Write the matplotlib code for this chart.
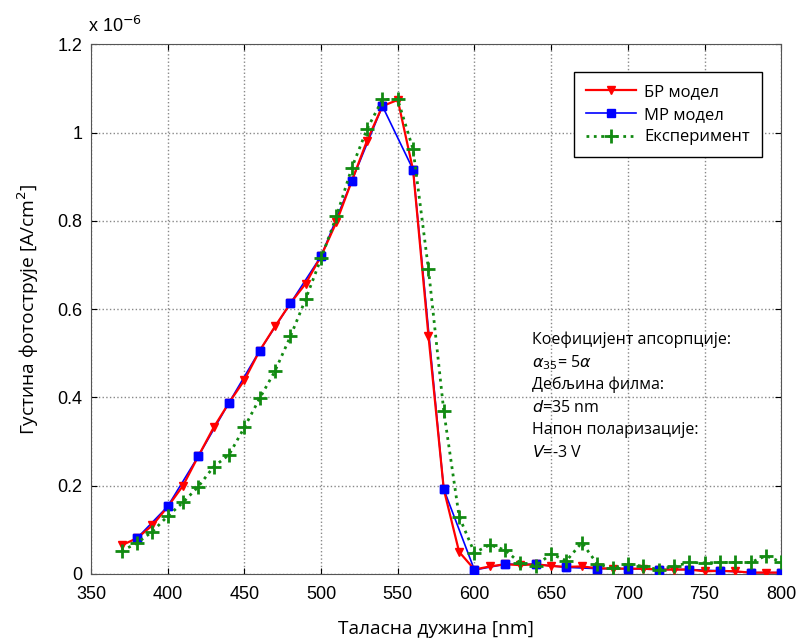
import matplotlib
matplotlib.use("Agg")
import matplotlib.pyplot as plt

# wavelength grid [nm]
wl = list(range(370, 801, 10))
wl_mr = list(range(380, 801, 20))

# photocurrent density, units of 1e-6 A/cm^2
br_model = [0.065, 0.081, 0.11, 0.152, 0.2, 0.267, 0.332, 0.388, 0.439, 0.506,
            0.561, 0.613, 0.658, 0.72, 0.797, 0.89, 0.982, 1.06, 1.074, 0.915,
            0.54, 0.192, 0.05, 0.01, 0.017, 0.022, 0.02, 0.022, 0.018, 0.016,
            0.017, 0.013, 0.012, 0.012, 0.012, 0.01, 0.01, 0.01, 0.006, 0.007,
            0.006, 0.003, 0.003, 0.003]
mr_model = [0.081, 0.153, 0.267, 0.388, 0.506, 0.613, 0.72, 0.89, 1.06, 0.916,
            0.192, 0.009, 0.022, 0.022, 0.015, 0.012, 0.012, 0.01, 0.01, 0.007,
            0.003, 0.003]
experiment = [0.052, 0.07, 0.096, 0.131, 0.162, 0.198, 0.243, 0.27, 0.332, 0.398,
              0.46, 0.538, 0.623, 0.715, 0.81, 0.92, 1.008, 1.075, 1.075, 0.962,
              0.691, 0.369, 0.13, 0.048, 0.066, 0.054, 0.024, 0.019, 0.045, 0.03,
              0.071, 0.023, 0.013, 0.023, 0.017, 0.01, 0.017, 0.026, 0.025, 0.026,
              0.026, 0.026, 0.041, 0.027]

plt.rcParams['font.family'] = ['Liberation Sans', 'DejaVu Sans']
label_font = ['Open Sans', 'DejaVu Sans']

fig = plt.figure(figsize=(7.98, 6.42), dpi=100)
ax = fig.add_axes([0.114, 0.106, 0.865, 0.825])

ax.plot(wl_mr, mr_model, color='blue', lw=1.2, marker='s', ms=6,
        label='МР модел', zorder=2)
ax.plot(wl, br_model, color='red', lw=1.6, marker='v', ms=6,
        label='БР модел', zorder=3)
ax.plot(wl_mr, mr_model, color='blue', lw=0, marker='s', ms=6, zorder=4)
ax.plot(wl, experiment, color='#128a12', lw=2, ls=':', marker='+', ms=10,
        mew=2, label='Експеримент', zorder=5)

ax.set_xlim(350, 800)
ax.set_ylim(0, 1.2)
ax.set_xticks(range(350, 801, 50))
ax.set_yticks([0, 0.2, 0.4, 0.6, 0.8, 1.0, 1.2])
ax.set_yticklabels(['0', '0.2', '0.4', '0.6', '0.8', '1', '1.2'])
ax.tick_params(direction='in', top=True, right=True, labelsize=13, length=4)
ax.tick_params(axis='x', pad=9)
ax.tick_params(axis='y', pad=6)
ax.grid(True, ls=':', color='#888888', lw=1)
for s in ax.spines.values():
    s.set_color('#555555')

ax.text(-0.004, 1.015, 'x 10$^{-6}$', transform=ax.transAxes, fontsize=13,
        ha='left', va='bottom')

ax.set_xlabel('Таласна дужина [nm]', family=label_font, fontsize=13.8,
              labelpad=12)
ax.set_ylabel('Густина фотострује [A/cm$^2$]', family=label_font,
              fontsize=13.8, labelpad=12)

handles, labels = ax.get_legend_handles_labels()
order = [1, 0, 2]
leg = ax.legend([handles[i] for i in order], [labels[i] for i in order],
                loc='upper right', bbox_to_anchor=(0.972, 0.947),
                borderaxespad=0,
                prop={'family': label_font, 'size': 12}, fancybox=False,
                edgecolor='black', framealpha=1, handlelength=3.0,
                borderpad=0.7, labelspacing=0.4, handletextpad=0.5)
leg.get_frame().set_linewidth(1)

notes = ['Коефицијент апсорпције:', r'$\alpha_{35}$= 5$\alpha$',
         'Дебљина филма:', r'$d$=35 nm', 'Напон поларизације:', r'$V$=-3 V']
for i, t in enumerate(notes):
    ax.text(0.639, 0.442 - i * 0.0427, t, transform=ax.transAxes,
            family=label_font, fontsize=11.5, va='center')

fig.savefig('out.png', dpi=100)
